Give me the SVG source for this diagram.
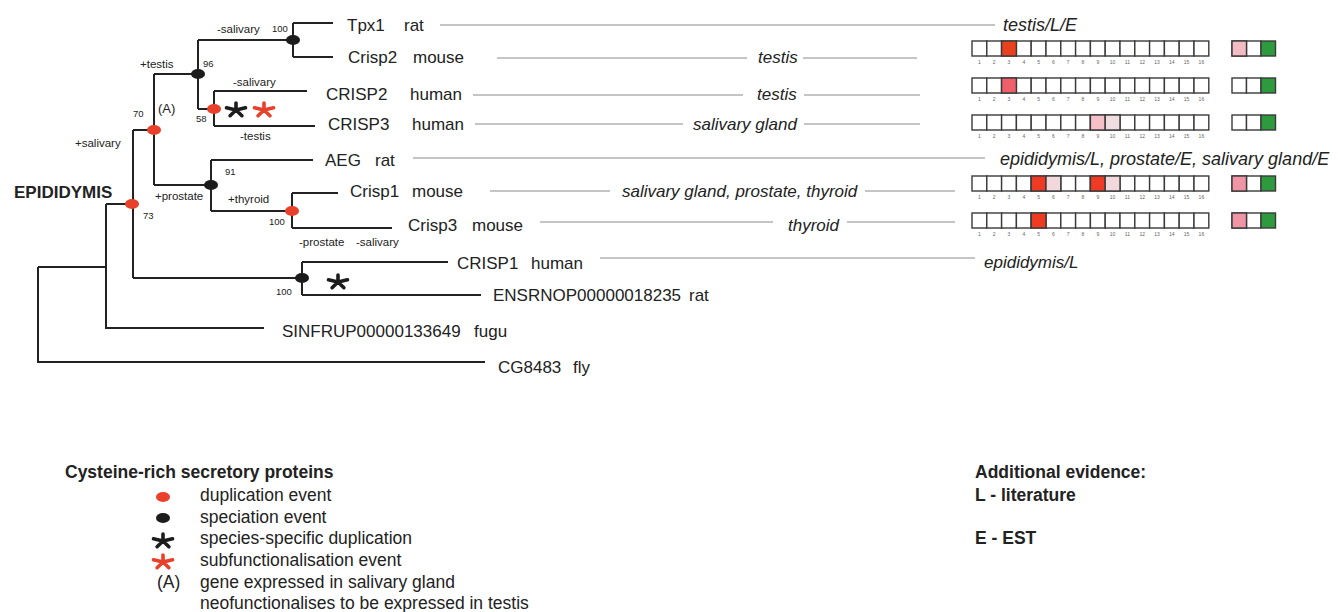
<svg xmlns="http://www.w3.org/2000/svg" xmlns:xlink="http://www.w3.org/1999/xlink" width="1338" height="612" viewBox="0 0 1338 612">
<style>
text{font-family:"Liberation Sans",Arial,sans-serif;fill:#222}
.br{stroke:#222;stroke-width:2;fill:none}
.cn{stroke:#8a8a8a;stroke-width:1;fill:none}
.lb{font-size:17px}
.it{font-style:italic}
.ev{font-size:11.5px}
.bs{font-size:9.5px}
.bold{font-weight:bold}
.lg{font-size:17.5px}
.bx{fill:#fff;stroke:#3a3a3a;stroke-width:1.4}
.num{font-size:5px;text-anchor:middle;fill:#666}
.dup{fill:#e8402a}
.spc{fill:#1c1c1c}
</style>
<defs>
<g id="ast"><path d="M0,0L0,-7M0,0L9.5,-2.2M0,0L5.9,5.7M0,0L-5.9,5.7M0,0L-9.5,-2.2" stroke-width="3.6" stroke-linecap="round"/></g>
<g id="row">
<rect class="bx" x="972" y="0" width="14.8" height="15"/><rect class="bx" x="986.8" y="0" width="14.8" height="15"/><rect class="bx" x="1001.6" y="0" width="14.8" height="15"/><rect class="bx" x="1016.4" y="0" width="14.8" height="15"/><rect class="bx" x="1031.2" y="0" width="14.8" height="15"/><rect class="bx" x="1046" y="0" width="14.8" height="15"/><rect class="bx" x="1060.8" y="0" width="14.8" height="15"/><rect class="bx" x="1075.6" y="0" width="14.8" height="15"/><rect class="bx" x="1090.4" y="0" width="14.8" height="15"/><rect class="bx" x="1105.2" y="0" width="14.8" height="15"/><rect class="bx" x="1120" y="0" width="14.8" height="15"/><rect class="bx" x="1134.8" y="0" width="14.8" height="15"/><rect class="bx" x="1149.6" y="0" width="14.8" height="15"/><rect class="bx" x="1164.4" y="0" width="14.8" height="15"/><rect class="bx" x="1179.2" y="0" width="14.8" height="15"/><rect class="bx" x="1194" y="0" width="14.8" height="15"/>
<text class="num" x="979.4" y="23">1</text><text class="num" x="994.2" y="23">2</text><text class="num" x="1009" y="23">3</text><text class="num" x="1023.8" y="23">4</text><text class="num" x="1038.6" y="23">5</text><text class="num" x="1053.4" y="23">6</text><text class="num" x="1068.2" y="23">7</text><text class="num" x="1083" y="23">8</text><text class="num" x="1097.8" y="23">9</text><text class="num" x="1112.6" y="23">10</text><text class="num" x="1127.4" y="23">11</text><text class="num" x="1142.2" y="23">12</text><text class="num" x="1157" y="23">13</text><text class="num" x="1171.8" y="23">14</text><text class="num" x="1186.6" y="23">15</text><text class="num" x="1201.4" y="23">16</text>
<rect class="bx" x="1232" y="0" width="14.5" height="15"/><rect class="bx" x="1246.5" y="0" width="14.5" height="15"/><rect class="bx" x="1261" y="0" width="14.5" height="15" style="fill:#2e9a3e"/>
</g>
</defs>
<rect width="1338" height="612" fill="#fff"/>

<g id="connectors">
<path class="br" d="M38,267V362H485M38,267H106M106,204V328H264M106,204H133M133,130V278M133,130H154M133,278H302M302,262V295M302,262H448M302,295H481M154,74V185M154,74H198M154,185H211M198,40V109M198,40H293M198,109H214M293,23V57M293,23H333M293,57H333M214,91V126M214,91H307M214,126H315M211,160V211M211,160H313M211,211H292M292,193V228M292,193H338M292,228H392"/>
<path class="cn" d="M440,25H995M497,58H747M803,58H917M473,95H743M804,95H920M475,124H683M804,124H920M413,158H985M490,191H610M865,191H955M540,222H773M847,222H955M600,258H975"/>
</g>

<g id="n100a"><ellipse class="spc" cx="293" cy="40" rx="7" ry="5"/><text class="bs" x="272" y="32">100</text></g>
<g id="n96"><ellipse class="spc" cx="198" cy="74" rx="7" ry="5"/><text class="bs" x="203" y="67">96</text></g>
<g id="n58"><ellipse class="dup" cx="214" cy="109" rx="7" ry="5"/><text class="bs" x="196" y="122">58</text>
<use href="#ast" x="236" y="110" stroke="#1c1c1c"/><use href="#ast" x="264" y="110" stroke="#e8402a"/></g>
<g id="n70"><ellipse class="dup" cx="154" cy="130" rx="7" ry="5"/><text class="bs" x="133" y="117">70</text><text class="ev" style="font-size:13px" x="158" y="113">(A)</text></g>
<g id="n91"><ellipse class="spc" cx="211" cy="185" rx="7" ry="5"/><text class="bs" x="225" y="175">91</text></g>
<g id="n100b"><ellipse class="dup" cx="292" cy="211" rx="7" ry="5"/><text class="bs" x="269" y="225">100</text></g>
<g id="n73"><ellipse class="dup" cx="132" cy="204" rx="7" ry="5"/><text class="bs" x="143" y="219">73</text></g>
<g id="n100c"><ellipse class="spc" cx="302" cy="278" rx="7" ry="5"/><text class="bs" x="276" y="295">100</text><use href="#ast" x="338" y="282" stroke="#1c1c1c"/></g>

<g id="events">
<text class="ev" x="217" y="33">-salivary</text>
<text class="ev" x="140" y="68">+testis</text>
<text class="ev" x="233" y="86">-salivary</text>
<text class="ev" x="240" y="140">-testis</text>
<text class="ev" x="75" y="147">+salivary</text>
<text class="ev" x="155" y="200">+prostate</text>
<text class="ev" x="228" y="203">+thyroid</text>
<text class="ev" x="299" y="246">-prostate</text><text class="ev" x="356" y="246">-salivary</text>
<text class="bold" style="font-size:17px" x="14" y="198">EPIDIDYMIS</text>
</g>

<g id="tpx1"><text class="lb" x="347" y="31">Tpx1</text><text class="lb" x="404" y="31">rat</text><text class="lb it" style="font-size:18px" x="1003" y="31">testis/L/E</text></g>
<g id="crisp2m"><text class="lb" x="348" y="63">Crisp2</text><text class="lb" x="413" y="63">mouse</text><text class="lb it" x="758" y="63">testis</text>
<use href="#row" y="41"/><rect class="bx" x="1001.6" y="41" width="14.8" height="15" style="fill:#e8411e"/><rect class="bx" x="1232" y="41" width="14.5" height="15" style="fill:#f2bcc4"/></g>
<g id="crisp2h"><text class="lb" x="326" y="100">CRISP2</text><text class="lb" x="410" y="100">human</text><text class="lb it" x="757" y="100">testis</text>
<use href="#row" y="78"/><rect class="bx" x="1001.6" y="78" width="14.8" height="15" style="fill:#f0606a"/></g>
<g id="crisp3h"><text class="lb" x="328" y="130">CRISP3</text><text class="lb" x="412" y="130">human</text><text class="lb it" x="693" y="130">salivary gland</text>
<use href="#row" y="115"/><rect class="bx" x="1090.4" y="115" width="14.8" height="15" style="fill:#f5c0c8"/><rect class="bx" x="1105.2" y="115" width="14.8" height="15" style="fill:#f0dde2"/></g>
<g id="aeg"><text class="lb" x="325" y="166">AEG</text><text class="lb" x="375" y="166">rat</text><text class="lb it" style="font-size:18px" x="1000" y="165">epididymis/L, prostate/E, salivary gland/E</text></g>
<g id="crisp1m"><text class="lb" x="350" y="197">Crisp1</text><text class="lb" x="412" y="197">mouse</text><text class="lb it" x="622" y="197">salivary gland, prostate, thyroid</text>
<use href="#row" y="176"/><rect class="bx" x="1031.2" y="176" width="14.8" height="15" style="fill:#ef3b24"/><rect class="bx" x="1046" y="176" width="14.8" height="15" style="fill:#f0d8dc"/><rect class="bx" x="1090.4" y="176" width="14.8" height="15" style="fill:#ef3b24"/><rect class="bx" x="1105.2" y="176" width="14.8" height="15" style="fill:#f0d8dc"/><rect class="bx" x="1232" y="176" width="14.5" height="15" style="fill:#f095a5"/></g>
<g id="crisp3m"><text class="lb" x="408" y="231">Crisp3</text><text class="lb" x="472" y="231">mouse</text><text class="lb it" x="788" y="231">thyroid</text>
<use href="#row" y="213"/><rect class="bx" x="1031.2" y="213" width="14.8" height="15" style="fill:#ef3b24"/><rect class="bx" x="1232" y="213" width="14.5" height="15" style="fill:#f095a5"/></g>
<g id="crisp1h"><text class="lb" x="457" y="269">CRISP1</text><text class="lb" x="531" y="269">human</text><text class="lb it" x="984" y="268">epididymis/L</text></g>
<g id="ensrnop"><text class="lb" x="493" y="301">ENSRNOP00000018235</text><text class="lb" x="689" y="301">rat</text></g>
<g id="sinfrup"><text class="lb" x="282" y="337">SINFRUP00000133649</text><text class="lb" x="474" y="337">fugu</text></g>
<g id="cg8483"><text class="lb" x="498" y="373">CG8483</text><text class="lb" x="573" y="373">fly</text></g>

<g id="legend">
<text class="lg bold" x="65" y="478">Cysteine-rich secretory proteins</text>
<ellipse class="dup" cx="163" cy="497" rx="7" ry="5"/><text class="lg" x="200" y="501">duplication event</text>
<ellipse class="spc" cx="163" cy="518" rx="7" ry="5"/><text class="lg" x="200" y="523">speciation event</text>
<use href="#ast" x="163" y="541" stroke="#1c1c1c"/><text class="lg" x="200" y="544">species-specific duplication</text>
<use href="#ast" x="163" y="562" stroke="#e8402a"/><text class="lg" x="200" y="566">subfunctionalisation event</text>
<text class="lg" x="157" y="588">(A)</text><text class="lg" x="200" y="588">gene expressed in salivary gland</text>
<text class="lg" x="200" y="609">neofunctionalises to be expressed in testis</text>
</g>
<g id="evidence">
<text class="lg bold" x="975" y="478">Additional evidence:</text>
<text class="lg bold" x="975" y="501">L - literature</text>
<text class="lg bold" x="975" y="544">E - EST</text>
</g>
</svg>
